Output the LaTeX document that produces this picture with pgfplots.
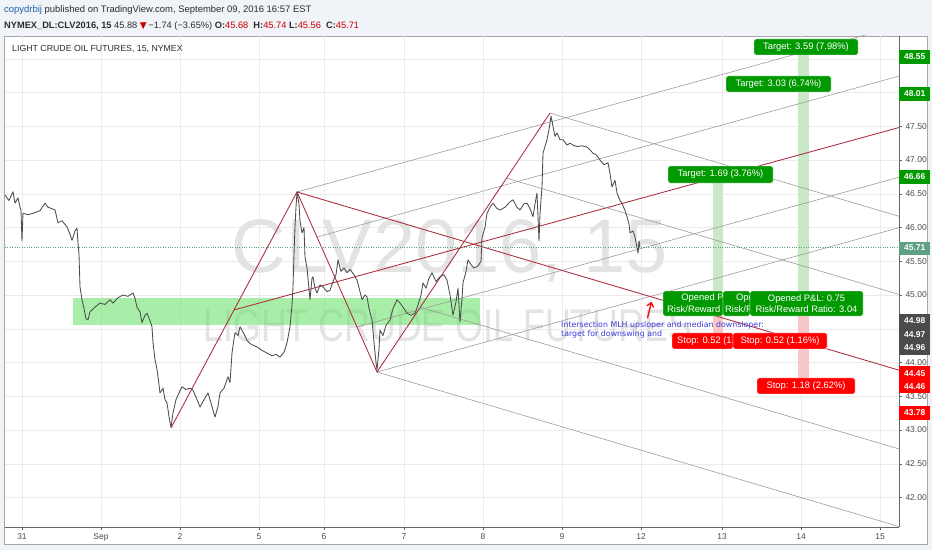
\documentclass[border=0pt]{standalone}
\usepackage{fontspec}
\setmainfont{Liberation Sans}
\newfontfamily\dejavu{DejaVu Sans}
\usepackage{pgfplots}
\pgfplotsset{compat=1.18}
\usetikzlibrary{arrows.meta}
\definecolor{bgc}{RGB}{240,243,247}
\definecolor{pfred}{RGB}{172,42,58}
\definecolor{pfgray}{RGB}{150,150,150}
\definecolor{tvgreen}{RGB}{0,153,0}
\definecolor{tvred}{RGB}{255,0,0}
\definecolor{bandg}{RGB}{200,232,200}
\definecolor{bandr}{RGB}{248,200,200}
\definecolor{zone}{RGB}{110,225,110}
\definecolor{lastc}{RGB}{95,160,130}
\definecolor{darkbox}{RGB}{75,75,75}
\definecolor{txt}{RGB}{45,45,45}
\definecolor{userblue}{RGB}{30,100,170}
\definecolor{notes}{RGB}{60,60,220}
\begin{document}
\begin{tikzpicture}
\useasboundingbox (0,0) rectangle (932bp,550bp);
\fill[bgc] (0,0) rectangle (932bp,550bp);
\fill[white, draw=black!35] (4bp,6bp) rectangle (927bp,514bp);
% header
\node[anchor=west, inner sep=0, text=txt, font=\fontsize{9.5}{11}\selectfont] at (4bp,540bp)
  {\textcolor{userblue}{copydrbij} published on TradingView.com, September 09, 2016 16:57 EST};
\node[anchor=west, inner sep=0, text=txt, font=\fontsize{9.3}{11}\selectfont] at (4bp,524bp)
  {\textbf{NYMEX\_DL:CLV2016, 15} 45.88 \textcolor{red!80!black}{\dejavu\small ▼}\,−1.74 (−3.65\%) \textbf{O:}\textcolor{red!80!black}{45.68} \ \textbf{H:}\textcolor{red!80!black}{45.74} \textbf{L:}\textcolor{red!80!black}{45.56} \ \textbf{C:}\textcolor{red!80!black}{45.71}};
\begin{axis}[
  at={(5bp,23bp)}, anchor=south west, scale only axis,
  width=894bp, height=491bp,
  xmin=5, xmax=899, ymin=41.563, ymax=48.837,
  axis x line*=bottom, axis y line*=right,
  axis line style={black!60, -},
  xtick={22,101,180,259,324,404,483,562,641,722,801,880},
  xticklabels={31,Sep,2,5,6,7,8,9,12,13,14,15},
  ytick={42,42.5,43,43.5,44,44.5,45,45.5,46,46.5,47,47.5,48,48.5},
  yticklabel style={/pgf/number format/.cd, fixed, fixed zerofill, precision=2, assume math mode=true},
  grid=major, major grid style={black!8},
  tick style={black!60}, tick align=outside, major tick length=3bp,
  ticklabel style={font=\fontsize{8.5}{9}\selectfont, text=black!70},
  clip mode=individual,
]
% watermark
\node[text=black!11, font=\fontsize{76}{76}\selectfont] at (axis cs:450,45.65) {CLV2016, 15};
\node[text=black!11, font=\fontsize{46}{46}\selectfont, anchor=west] at (axis cs:200,44.55) {\scalebox{0.78}[1]{LIGHT CRUDE OIL FUTURES}};
% support zone
\addplot[fill=zone, fill opacity=0.6, draw=none] coordinates {(73,44.956) (480,44.956) (480,44.556) (73,44.556)} -- cycle;
% position bands
\addplot[fill=bandg, draw=none] coordinates {(798,48.556) (809,48.556) (809,45.059) (798,45.059)} -- cycle;
\addplot[fill=bandg, draw=none] coordinates {(713,46.659) (723,46.659) (723,45.059) (713,45.059)} -- cycle;
\addplot[fill=bandr, draw=none] coordinates {(713,44.689) (723,44.689) (723,44.437) (713,44.437)} -- cycle;
\addplot[fill=bandr, draw=none] coordinates {(798,44.689) (809,44.689) (809,43.770) (798,43.770)} -- cycle;
% pitchfork 1 (rising)
\addplot[pfgray, no markers, line width=0.55pt] coordinates {(297,46.526) (899,48.99)};
\addplot[pfgray, no markers, line width=0.55pt] coordinates {(317,45.859) (899,48.243)};
\addplot[pfgray, no markers, line width=0.55pt] coordinates {(357,44.526) (899,46.745)};
\addplot[pfgray, no markers, line width=0.55pt] coordinates {(377,43.859) (899,45.997)};
\addplot[pfred, no markers, line width=0.85pt] coordinates {(234,44.778) (899,47.481)};
% pitchfork 2 (falling)
\addplot[pfgray, no markers, line width=0.55pt] coordinates {(550,47.696) (899,46.166)};
\addplot[pfgray, no markers, line width=0.55pt] coordinates {(506.75,46.730) (899,45.009)};
\addplot[pfgray, no markers, line width=0.55pt] coordinates {(420.25,44.819) (899,42.719)};
\addplot[pfgray, no markers, line width=0.55pt] coordinates {(377,43.859) (899,41.570)};
\addplot[pfred, no markers, line width=0.85pt] coordinates {(297,46.526) (899,43.886)};
% swing legs
\addplot[pfred, no markers, line width=0.85pt] coordinates {(171,43.030) (297,46.526) (377,43.859) (550,47.696)};
% price
\addplot[black!70, no markers, line width=0.85pt, line join=round] coordinates {
(5,46.48) (9,46.40) (13,46.53) (15,46.36) (18,46.44) (20,46.30) (21,46.26) (22,45.80) (23,46.21)
(28,46.19) (33,46.21) (40,46.25) (45,46.36) (48,46.30) (50,46.29) (55,46.26) (58,46.07) (62,46.10)
(67,46.01) (70,45.90) (72,45.81) (75,45.95) (77,45.99) (78,45.77)
(79,45.60) (80,45.12) (82,44.93) (84,44.80) (86,44.65) (88,44.63) (90,44.75) (95,44.82) (100,44.88)
(105,44.86) (110,44.93) (113,44.88) (118,44.96) (123,45.00) (128,44.98) (133,45.03) (135,44.95)
(137,44.82) (140,44.75) (142,44.59) (145,44.70) (147,44.73) (150,44.62) (152,44.53) (153,44.30)
(155,44.04) (157,43.90) (158,43.79) (160,43.55) (163,43.62) (165,43.45) (167,43.40) (169,43.20)
(171,43.04) (173,43.25) (176,43.45) (179,43.55) (182,43.64) (186,43.60) (190,43.62) (193,43.59)
(197,43.45) (200,43.34) (204,43.45) (208,43.55) (211,43.40) (215,43.19) (218,43.35) (220,43.55)
(224,43.62) (228,43.79) (230,43.70) (232,44.14) (234,44.35) (235,44.44) (238,44.40) (240,44.53)
(243,44.45) (247,44.33) (250,44.28) (254,44.25) (257,44.23) (262,44.18) (267,44.14) (272,44.10)
(276,44.12) (280,44.08) (284,44.15) (287,44.29) (290,44.53) (292,44.85) (293,45.12) (294,45.60)
(295,46.01) (296,46.30) (297,46.52)
(299,46.35) (300,46.10) (302,45.92) (304,46.00) (305,45.56) (307,45.40) (310,44.93) (312,45.25)
(313,45.27) (315,45.10) (317,45.03) (320,45.15) (323,45.12) (327,45.05) (330,45.07) (333,45.20)
(336,45.30) (338,45.52) (341,45.35) (344,45.40) (347,45.33) (350,45.38) (354,45.30) (357,45.22)
(360,45.05) (362,44.93) (365,45.00) (367,44.97) (369,44.80) (372,44.63) (374,44.30) (376,44.00)
(377,43.89) (379,44.20) (380,44.48) (383,44.40) (386,44.55) (390,44.63) (393,44.80) (397,44.93)
(400,44.88) (404,44.80) (407,44.73) (411,44.70) (415,44.73) (418,44.85) (421,45.00) (423,45.18)
(426,45.10) (429,45.25) (432,45.33) (436,45.20) (440,45.27) (444,45.30) (447,45.22) (450,45.00)
(453,44.70) (456,44.90) (458,45.10) (460,44.60) (462,44.95) (463,45.18) (466,45.35) (468,45.52)
(471,45.45) (474,45.40) (478,45.43) (481,45.50) (482,45.85) (485,46.00) (487,46.21) (490,46.30)
(493,46.36) (497,46.28) (500,46.26) (505,46.30) (510,46.38) (513,46.41) (517,46.30) (520,46.26)
(524,46.35) (527,46.36) (530,46.28) (533,46.16) (535,46.35) (537,46.51) (539,45.80) (540,46.20)
(541,46.41) (542,46.60) (543,47.10) (545,47.20) (547,47.30) (549,47.45) (551,47.65) (553,47.50)
(555,47.35) (557,47.40) (560,47.30) (563,47.30) (567,47.22) (570,47.25) (573,47.22) (577,47.20)
(582,47.21) (587,47.19) (590,47.15) (593,47.10) (596,47.08) (600,47.00) (604,46.93) (608,46.96)
(610,46.80) (612,46.60) (615,46.70) (617,46.51) (620,46.40) (622,46.36) (625,46.25) (627,46.16)
(629,46.05) (630,45.92) (633,45.95) (635,45.86) (637,45.70) (638,45.62) (639,45.80) (640,45.71)
};
% last price line
\addplot[lastc, dotted, no markers] coordinates {(5,45.711) (899,45.711)};
% note and arrow
\node[anchor=north west, align=left, inner sep=0, text=notes, font=\dejavu\fontsize{7.9}{9.2}\selectfont]
  at (axis cs:561,44.61) {Intersection MLH upsloper and median downsloper:\\target for downswing and};
\draw[tvred, line width=1.3pt, -{Straight Barb[length=4bp,width=7bp]}] (axis cs:647.5,44.66) -- (axis cs:651.5,44.90);
% position tool labels
\tikzset{tvbox/.style={inner sep=0, rounded corners=1.5bp, text=white, align=center,
  font=\fontsize{9.4}{11}\selectfont, draw=white, line width=0.4pt},
  cut/.style={anchor=west, inner sep=0, text=white, font=\fontsize{9.4}{11}\selectfont}}
\node[tvbox, fill=tvgreen, minimum width=104bp, minimum height=16bp] at (axis cs:806,48.674) {Target: 3.59 (7.98\%)};
\node[tvbox, fill=tvgreen, minimum width=105bp, minimum height=16bp] at (axis cs:778.5,48.126) {Target: 3.03 (6.74\%)};
\node[tvbox, fill=tvgreen, minimum width=105bp, minimum height=17bp] at (axis cs:720.5,46.785) {Target: 1.69 (3.76\%)};
\node[tvbox, fill=tvgreen, minimum width=60bp, minimum height=25bp, path picture={
  \node[cut] at ([xshift=15bp,yshift=5.5bp]path picture bounding box.west) {Opened P\&L};
  \node[cut] at ([xshift=4bp,yshift=-5.5bp]path picture bounding box.west) {Risk/Reward Ratio};}]
  at (axis cs:693,44.874) {};
\node[tvbox, fill=tvgreen, minimum width=27bp, minimum height=25bp, path picture={
  \node[cut] at ([xshift=13bp,yshift=5.5bp]path picture bounding box.west) {Opened P\&L};
  \node[cut] at ([xshift=2bp,yshift=-5.5bp]path picture bounding box.west) {Risk/Reward Ratio};}]
  at (axis cs:736.5,44.874) {};
\node[tvbox, fill=tvgreen, minimum width=113bp, minimum height=25bp] at (axis cs:806.5,44.874) {Opened P\&L: 0.75\\Risk/Reward Ratio: 3.04};
\node[tvbox, fill=tvred, minimum width=61bp, minimum height=16bp, path picture={
  \node[cut] at ([xshift=5bp]path picture bounding box.west) {Stop: 0.52 (1.16\%)};}]
  at (axis cs:702.5,44.319) {};
\node[tvbox, fill=tvred, minimum width=94bp, minimum height=16bp] at (axis cs:780,44.319) {Stop: 0.52 (1.16\%)};
\node[tvbox, fill=tvred, minimum width=98bp, minimum height=16bp] at (axis cs:806,43.652) {Stop: 1.18 (2.62\%)};
% price scale labels
\tikzset{scl/.style={anchor=west, inner sep=0, minimum width=31bp, text=white, align=center,
  font=\fontsize{8.5}{13.5}\selectfont\bfseries}}
\node[scl, fill=tvgreen, minimum height=14bp] at (axis cs:899,48.526) {48.55};
\node[scl, fill=tvgreen, minimum height=14bp] at (axis cs:899,47.978) {48.01};
\node[scl, fill=tvgreen, minimum height=14bp] at (axis cs:899,46.748) {46.66};
\node[scl, fill=lastc, minimum height=13bp] at (axis cs:899,45.696) {45.71};
\node[scl, fill=darkbox, minimum height=41bp] at (axis cs:899,44.415) {44.98\\44.97\\44.96};
\node[scl, fill=tvred, minimum height=27bp] at (axis cs:899,43.741) {44.45\\44.46};
\node[scl, fill=tvred, minimum height=14bp] at (axis cs:899,43.252) {43.78};
% chart title
\node[anchor=west, inner sep=0, text=txt, font=\fontsize{8.8}{10}\selectfont] at (axis cs:12,48.64) {LIGHT CRUDE OIL FUTURES, 15, NYMEX};
\end{axis}
\end{tikzpicture}
\end{document}
